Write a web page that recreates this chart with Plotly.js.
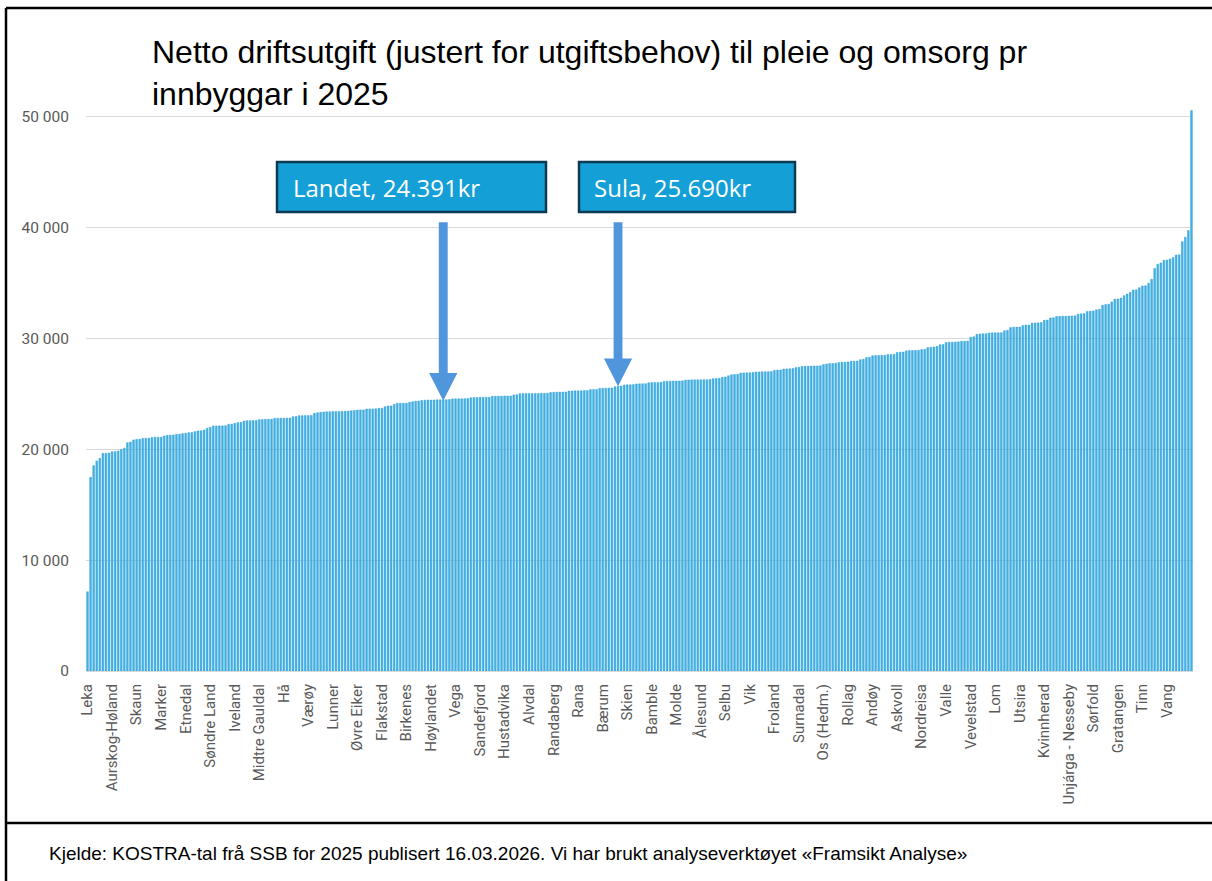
<!DOCTYPE html>
<html>
<head>
<meta charset="utf-8">
<script src="https://cdn.plot.ly/plotly-3.0.1.min.js"></script>
<style>
  html, body { margin: 0; padding: 0; background: #ffffff; }
  #chart { width: 1212px; height: 881px; }
</style>
</head>
<body>
<div id="chart"></div>
<script>
// Tick labels (every 8th municipality is labelled on the axis)
const labelNames = [
  "Leka", "Aurskog-Høland", "Skaun", "Marker", "Etnedal", "Søndre Land", "Iveland",
  "Midtre Gauldal", "Hå", "Værøy", "Lunner", "Øvre Eiker", "Flakstad", "Birkenes",
  "Høylandet", "Vega", "Sandefjord", "Hustadvika", "Alvdal", "Randaberg", "Rana",
  "Bærum", "Skien", "Bamble", "Molde", "Ålesund", "Selbu", "Vik", "Froland",
  "Surnadal", "Os (Hedm.)", "Rollag", "Andøy", "Askvoll", "Nordreisa", "Valle",
  "Vevelstad", "Lom", "Utsira", "Kvinnherad", "Unjárga - Nesseby", "Sørfold",
  "Gratangen", "Tinn", "Vang"
];
const labelStep = 8;

// Netto driftsutgift per innbyggar (kr), sorted ascending, one value per municipality
const values = [
  7150, 17480, 18530, 18950, 19190, 19640, 19650, 19660,
  19790, 19800, 19850, 20000, 20100, 20600, 20660, 20850,
  20900, 20910, 20990, 21000, 21010, 21060, 21090, 21090,
  21100, 21210, 21270, 21280, 21300, 21360, 21370, 21420,
  21450, 21510, 21520, 21600, 21660, 21670, 21750, 21900,
  21990, 22110, 22110, 22120, 22120, 22130, 22260, 22270,
  22350, 22410, 22440, 22560, 22590, 22590, 22600, 22600,
  22680, 22690, 22710, 22710, 22720, 22800, 22800, 22810,
  22810, 22820, 22830, 22950, 22960, 23040, 23040, 23050,
  23050, 23060, 23250, 23310, 23340, 23370, 23400, 23400,
  23410, 23410, 23420, 23420, 23430, 23460, 23490, 23500,
  23550, 23560, 23560, 23640, 23650, 23650, 23660, 23700,
  23710, 23850, 23910, 23920, 24060, 24150, 24160, 24160,
  24170, 24240, 24300, 24350, 24360, 24420, 24440, 24450,
  24450, 24460, 24470, 24470, 24480, 24480, 24490, 24550,
  24560, 24560, 24570, 24570, 24580, 24660, 24680, 24680,
  24690, 24690, 24700, 24700, 24780, 24790, 24800, 24800,
  24810, 24810, 24820, 24910, 24930, 25020, 25030, 25040,
  25040, 25050, 25050, 25050, 25060, 25060, 25070, 25140,
  25150, 25160, 25170, 25170, 25180, 25260, 25270, 25280,
  25280, 25290, 25300, 25300, 25390, 25400, 25410, 25500,
  25510, 25520, 25530, 25540, 25650, 25690, 25710, 25800,
  25820, 25830, 25840, 25900, 25910, 25920, 25930, 26010,
  26030, 26040, 26040, 26050, 26130, 26140, 26150, 26160,
  26160, 26170, 26180, 26250, 26260, 26270, 26270, 26280,
  26280, 26290, 26290, 26300, 26380, 26390, 26410, 26500,
  26530, 26640, 26740, 26760, 26770, 26880, 26900, 26910,
  26920, 26940, 26980, 26990, 27000, 27000, 27010, 27020,
  27130, 27150, 27160, 27250, 27260, 27270, 27290, 27380,
  27400, 27480, 27490, 27500, 27510, 27520, 27530, 27540,
  27650, 27700, 27740, 27750, 27760, 27840, 27860, 27870,
  27880, 27940, 27960, 27970, 28090, 28120, 28280, 28320,
  28440, 28460, 28470, 28480, 28490, 28550, 28560, 28570,
  28740, 28770, 28780, 28890, 28910, 28920, 28930, 28940,
  29000, 29020, 29180, 29210, 29230, 29300, 29440, 29470,
  29640, 29660, 29670, 29680, 29700, 29750, 29760, 29770,
  30120, 30160, 30380, 30410, 30430, 30440, 30500, 30510,
  30520, 30520, 30530, 30700, 30740, 30990, 31020, 31030,
  31040, 31180, 31210, 31220, 31390, 31410, 31420, 31440,
  31640, 31670, 31850, 31880, 31990, 32000, 32010, 32020,
  32030, 32040, 32050, 32200, 32230, 32250, 32440, 32470,
  32490, 32600, 32640, 33000, 33060, 33100, 33300, 33550,
  33560, 33650, 33870, 34020, 34170, 34380, 34400, 34590,
  34740, 34760, 34990, 35350, 36310, 36700, 36820, 37060,
  37080, 37180, 37300, 37540, 37560, 38740, 39140, 39740,
  50570
];

// Highlighted values
const landetValue = 24391;
const sulaValue = 25690;
const landetIndex = 116;
const sulaIndex = 173;

const titleText = "Netto driftsutgift (justert for utgiftsbehov) til pleie og omsorg pr<br>innbyggar i 2025";
const sourceText = "Kjelde: KOSTRA-tal frå SSB for 2025 publisert 16.03.2026. Vi har brukt analyseverktøyet «Framsikt Analyse»";

// ---------- layout helpers ----------
const W = 1212, H = 881;
const M = { l: 86, r: 19, t: 108, b: 210 };
const plotW = W - M.l - M.r, plotH = H - M.t - M.b;
const px = x => (x - M.l) / plotW;
const py = y => (H - M.b - y) / plotH;

const xIdx = values.map((_, i) => i);
const tickVals = labelNames.map((_, k) => k * labelStep);

function arrowPath(i, tip) {
  const top = 40500, headH = 2500, sw = 1.45, hw = 4.6;
  const base = tip + headH;
  return `M ${i - sw},${top} L ${i + sw},${top} L ${i + sw},${base} L ${i + hw},${base} ` +
         `L ${i},${tip} L ${i - hw},${base} L ${i - sw},${base} Z`;
}

const trace = {
  type: 'bar',
  x: xIdx,
  y: values,
  marker: { color: '#45b3e4', line: { color: '#1796d2', width: 0.4 } },
  hoverinfo: 'skip'
};

const boxFill = '#149fd6', boxLine = '#0d3a53', arrowCol = '#5096dc';

const layout = {
  width: W, height: H,
  margin: M,
  paper_bgcolor: '#ffffff',
  plot_bgcolor: '#ffffff',
  separators: ', ',
  showlegend: false,
  bargap: 0.42,
  title: {
    text: titleText,
    font: { family: 'Liberation Sans, Arial, sans-serif', size: 32, color: '#000000' },
    x: px(152), xref: 'paper', xanchor: 'left',
    y: 1 - 63 / H, yref: 'container', yanchor: 'top'
  },
  xaxis: {
    type: 'linear',
    range: [-0.5, values.length - 0.5],
    tickmode: 'array',
    tickvals: tickVals,
    ticktext: labelNames,
    tickangle: -90,
    tickfont: { family: 'Roboto, sans-serif', size: 15, color: '#595959' },
    ticks: '',
    ticklabelstandoff: 6,
    showgrid: false,
    zeroline: false,
    showline: true,
    linecolor: '#d9d9d9',
    linewidth: 1,
    fixedrange: true
  },
  yaxis: {
    range: [0, 50800],
    tickmode: 'array',
    tickvals: [0, 10000, 20000, 30000, 40000, 50000],
    tickformat: ',d',
    tickfont: { family: 'Roboto, sans-serif', size: 15.5, color: '#595959' },
    ticklabelstandoff: 16,
    showgrid: true,
    gridcolor: '#d9d9d9',
    gridwidth: 1,
    zeroline: false,
    showline: false,
    fixedrange: true
  },
  shapes: [
    // outer frame
    { type: 'line', xref: 'paper', yref: 'paper', x0: px(6), x1: px(1212), y0: py(8), y1: py(8),
      line: { color: '#000000', width: 2.5 } },
    { type: 'line', xref: 'paper', yref: 'paper', x0: px(6), x1: px(6), y0: py(8), y1: py(881),
      line: { color: '#000000', width: 2.5 } },
    { type: 'line', xref: 'paper', yref: 'paper', x0: px(6), x1: px(1212), y0: py(823), y1: py(823),
      line: { color: '#000000', width: 2.5 } },
    // callout boxes
    { type: 'rect', xref: 'paper', yref: 'paper', x0: px(277), x1: px(546), y0: py(212), y1: py(162),
      fillcolor: boxFill, line: { color: boxLine, width: 2.5 } },
    { type: 'rect', xref: 'paper', yref: 'paper', x0: px(579), x1: px(795), y0: py(212), y1: py(162),
      fillcolor: boxFill, line: { color: boxLine, width: 2.5 } },
    // arrows
    { type: 'path', xref: 'x', yref: 'y', path: arrowPath(landetIndex, landetValue),
      fillcolor: arrowCol, line: { width: 0 } },
    { type: 'path', xref: 'x', yref: 'y', path: arrowPath(sulaIndex, sulaValue),
      fillcolor: arrowCol, line: { width: 0 } }
  ],
  annotations: [
    { xref: 'paper', yref: 'paper', x: px(291), y: py(187), xanchor: 'left', yanchor: 'middle',
      text: 'Landet, ' + landetValue.toLocaleString('de-DE') + 'kr', showarrow: false,
      font: { family: 'Open Sans, sans-serif', size: 24, color: '#ffffff' } },
    { xref: 'paper', yref: 'paper', x: px(592), y: py(187), xanchor: 'left', yanchor: 'middle',
      text: 'Sula, ' + sulaValue.toLocaleString('de-DE') + 'kr', showarrow: false,
      font: { family: 'Open Sans, sans-serif', size: 24, color: '#ffffff' } },
    { xref: 'paper', yref: 'paper', x: px(47), y: py(853), xanchor: 'left', yanchor: 'middle',
      text: sourceText, showarrow: false,
      font: { family: 'Liberation Sans, Arial, sans-serif', size: 19, color: '#000000' } }
  ]
};

Plotly.newPlot('chart', [trace], layout, { staticPlot: true, displayModeBar: false });
</script>
</body>
</html>
